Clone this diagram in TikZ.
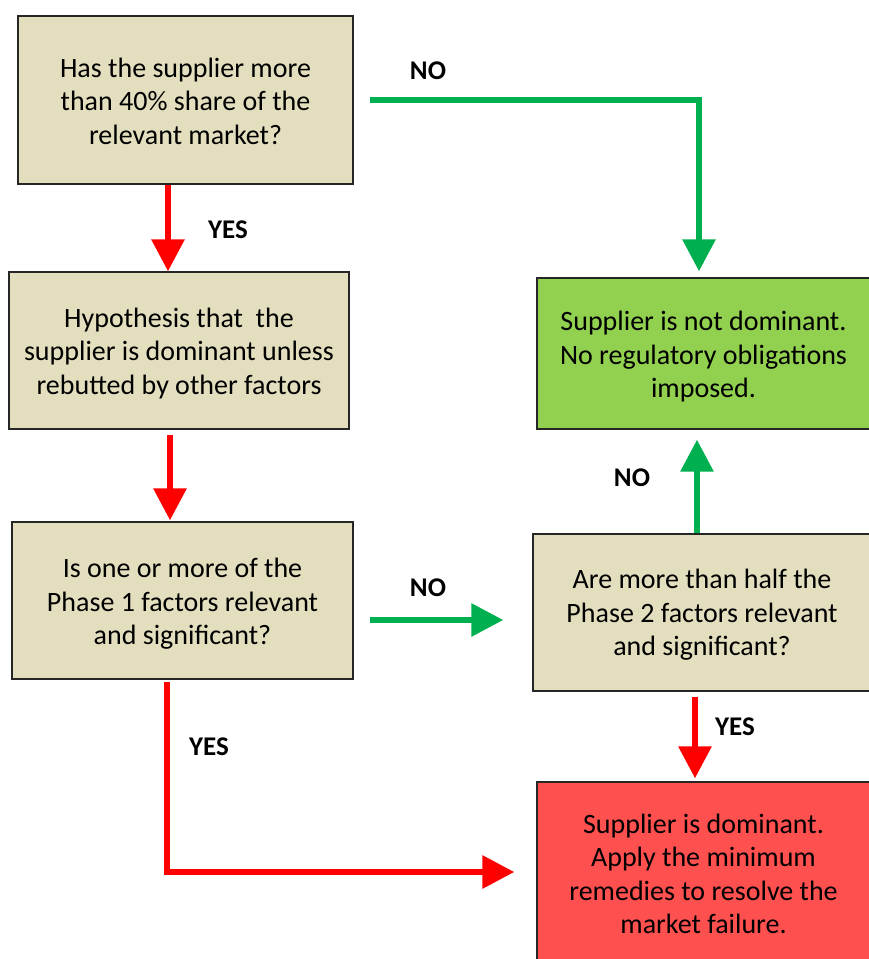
\documentclass[tikz,border=0pt]{standalone}
\usepackage{fontspec}
\setmainfont{Carlito}
\usetikzlibrary{arrows.meta,calc}
\definecolor{tanfill}{RGB}{227,223,190}
\definecolor{greenfill}{RGB}{146,208,80}
\definecolor{redfill}{RGB}{255,80,80}
\definecolor{arrowgreen}{RGB}{0,176,80}
\definecolor{arrowred}{RGB}{255,0,0}
\begin{document}
\begin{tikzpicture}[x=1pt,y=-1pt,
  box/.style={draw=black!85, line width=1.3pt, inner sep=0pt},
  txt/.style={align=center, inner sep=0pt, font=\fontsize{28}{33.5}\selectfont},
  flow/.style={line width=6pt, -{Triangle[width=32pt,length=32pt]}},
  lab/.style={font=\bfseries\fontsize{27}{30}\selectfont, inner sep=0pt}]
\useasboundingbox (0,0) rectangle (868,959);

% column / row helper coordinates
\coordinate (cA) at (168,0);
\coordinate (cB2) at (170,0);
\coordinate (cG) at (699,0);
\coordinate (cU) at (697,0);
\coordinate (cR) at (695,0);
\coordinate (cL) at (167,0);
\coordinate (rH) at (0,620);
\coordinate (rB) at (0,872);

% boxes
\node[box, fill=tanfill, minimum width=335pt, minimum height=168pt] (b1) at (185.5,100) {};
\node[box, fill=tanfill, minimum width=340pt, minimum height=157pt] (b2) at (179,350.5) {};
\node[box, fill=tanfill, minimum width=341pt, minimum height=157pt] (b3) at (182.5,600.5) {};
\node[box, fill=greenfill, minimum width=333pt, minimum height=151pt] (g) at (703.5,353.5) {};
\node[box, fill=tanfill, minimum width=338pt, minimum height=157pt] (p2) at (702,612.5) {};
\node[box, fill=redfill, minimum width=333pt, minimum height=180pt] (r) at (703.5,872) {};

% box texts
\node[txt] (t1) at ([yshift=-1pt]b1.center)
  {Has the supplier more\\than 40\% share of the\\relevant market?};
\node[txt] (t2) at ([yshift=-3pt]b2.center)
  {Hypothesis that~ the\\supplier is dominant unless\\rebutted by other factors};
\node[txt] (t3) at ([yshift=-3.5pt]b3.center)
  {Is one or more of the\\Phase 1 factors relevant\\and significant?};
\node[txt] (tg) at ([yshift=-3.5pt]g.center)
  {Supplier is not dominant.\\No regulatory obligations\\imposed.};
\node[txt] (tp) at ([yshift=-2.5pt]p2.center)
  {Are more than half the\\Phase 2 factors relevant\\and significant?};
\node[txt] (tr) at ([yshift=-2pt]r.center)
  {Supplier is dominant.\\Apply the minimum\\remedies to resolve the\\market failure.};

% connectors
\draw[flow, arrowred] (b1.south -| cA) -- (b2.north -| cA);
\draw[flow, arrowred, shorten <=5pt, shorten >=1pt] (b2.south -| cB2) -- (b3.north -| cB2);
\draw[flow, arrowgreen, shorten <=16pt, shorten >=6pt] (b1.east) -| (g.north -| cG);
\draw[flow, arrowgreen, shorten >=10pt] (p2.north -| cU) -- (g.south -| cU);
\draw[flow, arrowgreen, shorten <=16pt, shorten >=29pt] (b3.east |- rH) -- (p2.west |- rH);
\draw[flow, arrowred, shorten <=5pt, shorten >=3pt] (p2.south -| cR) -- (r.north -| cR);
\draw[flow, arrowred, shorten <=2pt, shorten >=22pt] (b3.south -| cL) |- (r.west |- rB);

% labels
\node[lab] (l1) at (428,71) {NO};
\node[lab] (l2) at (228,230) {YES};
\node[lab] (l3) at (632,478) {NO};
\node[lab] (l4) at (428,588) {NO};
\node[lab] (l5) at (735,727) {YES};
\node[lab] (l6) at (209,747) {YES};
\end{tikzpicture}
\end{document}
